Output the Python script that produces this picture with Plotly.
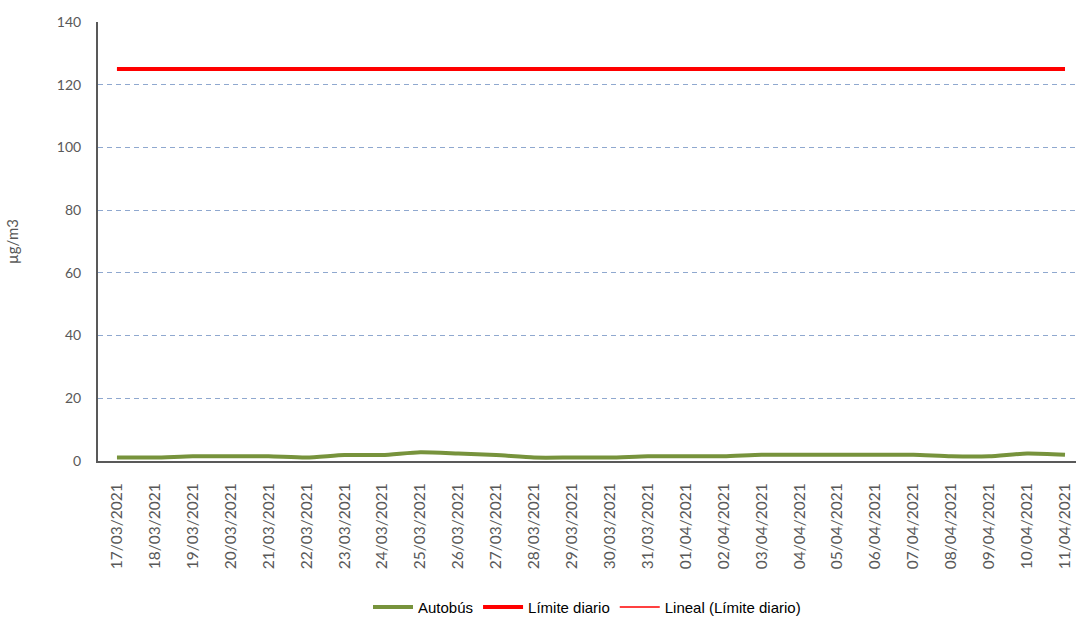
import plotly.graph_objects as go

fechas = ['17/03/2021', '18/03/2021', '19/03/2021', '20/03/2021', '21/03/2021',
          '22/03/2021', '23/03/2021', '24/03/2021', '25/03/2021', '26/03/2021',
          '27/03/2021', '28/03/2021', '29/03/2021', '30/03/2021', '31/03/2021',
          '01/04/2021', '02/04/2021', '03/04/2021', '04/04/2021', '05/04/2021',
          '06/04/2021', '07/04/2021', '08/04/2021', '09/04/2021', '10/04/2021',
          '11/04/2021']
autobus = [1.1, 1.1, 1.5, 1.5, 1.5, 1.1, 1.9, 1.9, 2.8, 2.4, 1.9, 1.1, 1.1,
           1.1, 1.5, 1.5, 1.5, 2.0, 2.0, 2.0, 2.0, 2.0, 1.5, 1.5, 2.4, 2.0]
limite_diario = [125] * len(fechas)
y_ticks = [0, 20, 40, 60, 80, 100, 120, 140]

fig = go.Figure()
fig.add_trace(go.Scatter(x=fechas, y=autobus, name='Autobús', mode='lines',
                         line=dict(color='#77933C', width=4, shape='spline', smoothing=0.6)))
fig.add_trace(go.Scatter(x=fechas, y=limite_diario, name='Límite diario', mode='lines',
                         line=dict(color='#FF0000', width=4)))
fig.add_trace(go.Scatter(x=fechas, y=limite_diario, name='Lineal (Límite diario)', mode='lines',
                         line=dict(color='#FF0000', width=1.5)))

fig.update_layout(width=1076,
                  height=619,
                  margin=dict(l=98, r=0, t=22, b=158),
                  plot_bgcolor='white',
                  paper_bgcolor='white',
                  font=dict(family='Lato, DejaVu Sans, sans-serif', size=14, color='#595959'),
                  hovermode=False,
                  legend=dict(orientation='h', x=0.5, xanchor='center',
                              yref='container', y=0.019, yanchor='middle',
                              font=dict(family='Liberation Sans, Arial, sans-serif', size=15, color='black'),
                              itemwidth=40, traceorder='normal'),
                  xaxis=dict(type='category', range=[-0.5, 25.29], tickangle=-90,
                             tickfont=dict(size=15.5, color='#595959'),
                             showgrid=False, showline=True, linecolor='#595959', linewidth=2,
                             ticks='', ticklabelstandoff=14, automargin=False),
                  yaxis=dict(range=[0, 140], tickvals=y_ticks, tickfont=dict(size=14, color='#595959'),
                             showgrid=True, gridcolor='#8FA8CF', griddash='5px,4px', gridwidth=1,
                             showline=True, linecolor='#595959', linewidth=2, zeroline=False,
                             ticks='', ticklabelstandoff=12, automargin=False,
                             title=dict(text='µg/m3', font=dict(size=15, color='#595959'), standoff=35)))

# drop the default body margin and scrollbars so the figure fills the window exactly
page_js = ("document.body.style.margin='0';"
           "document.body.style.overflow='hidden';"
           "document.documentElement.style.overflow='hidden';")
fig.write_html("out.html", post_script=page_js, config={'displayModeBar': False})
